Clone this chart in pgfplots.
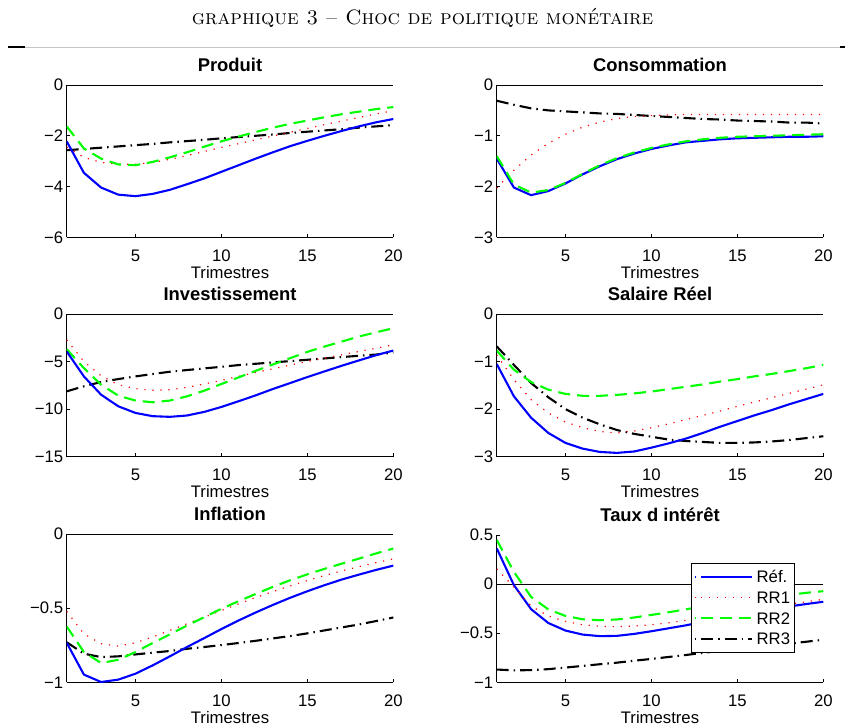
\documentclass[border=0pt]{standalone}
\usepackage{fontspec}
\usepackage{pgfplots}
\pgfplotsset{compat=1.18}
\newfontfamily\arialf{Liberation Sans}
\definecolor{mblue}{RGB}{0,0,255}
\definecolor{mred}{RGB}{255,0,0}
\definecolor{mgreen}{RGB}{0,255,0}
\pgfplotsset{
  every axis title shift=0pt,
  irf/.style={
    scale only axis, width=326.6pt,
    xmin=1, xmax=20,
    xtick={5,10,15,20}, xticklabels={5,10,15,20},
    axis x line*=bottom, axis y line*=left,
    axis line style={-, black, line width=0.7pt},
    tick align=inside, major tick length=3.5pt,
    tick style={black, line width=0.6pt},
    ticklabel style={font=\arialf\fontsize{16.7}{20}\selectfont},
    xticklabel style={yshift=-9pt},
    title style={font=\arialf\bfseries\fontsize{18.4}{22}\selectfont, at={(0.5,1)}, anchor=base, yshift=13.5pt},
    xlabel={Trimestres},
    xlabel style={font=\arialf\fontsize{16.7}{20}\selectfont, at={(axis description cs:0.5,0)}, anchor=base, yshift=-41pt},
    anchor=south west,
  },
  ref/.style={mblue, line width=2.1pt},
  rra/.style={mred, line width=1.2pt, dash pattern=on 1.2pt off 6.8pt},
  rrb/.style={mgreen, line width=2.1pt, dash pattern=on 12pt off 7pt},
  rrc/.style={black, line width=2.1pt, dash pattern=on 12pt off 5pt on 1.5pt off 5pt},
  zl/.style={black, line width=0.6pt, forget plot},
}
\begin{document}
\begin{tikzpicture}
\useasboundingbox (0pt,0pt) rectangle (845pt,726pt);
\node[anchor=base, font=\fontsize{20.8}{24}\selectfont] at (422.5pt,701pt) {\textsc{graphique 3 -- Choc de politique monétaire}};
\draw[gray!45, line width=0.8pt] (8pt,679pt) -- (845pt,679pt);
\draw[black, line width=1.6pt] (8pt,679pt) -- (25pt,679pt);
\draw[black, line width=1.6pt] (840pt,679pt) -- (845pt,679pt);

% Produit
\begin{axis}[irf, at={(66.7pt,488.7pt)}, height=152.3pt, ymin=-6, ymax=0,
  ytick={-6,-4,-2,0}, yticklabels={−6,−4,−2,0}, title={Produit}]
\addplot[zl] coordinates {(1,0)(20,0)};
\addplot[rrc] coordinates {(1,-2.57)(2,-2.52)(3,-2.47)(4,-2.42)(5,-2.37)(6,-2.32)(7,-2.26)(8,-2.21)(9,-2.16)(10,-2.10)(11,-2.05)(12,-2.00)(13,-1.95)(14,-1.89)(15,-1.84)(16,-1.79)(17,-1.74)(18,-1.68)(19,-1.63)(20,-1.58)};
\addplot[rra] coordinates {(1,-2.45)(2,-2.85)(3,-3.05)(4,-3.12)(5,-3.12)(6,-3.05)(7,-2.93)(8,-2.78)(9,-2.62)(10,-2.46)(11,-2.31)(12,-2.16)(13,-2.01)(14,-1.86)(15,-1.71)(16,-1.56)(17,-1.42)(18,-1.28)(19,-1.14)(20,-1.01)};
\addplot[rrb] coordinates {(1,-1.63)(2,-2.50)(3,-2.90)(4,-3.13)(5,-3.16)(6,-3.03)(7,-2.85)(8,-2.65)(9,-2.43)(10,-2.22)(11,-2.03)(12,-1.85)(13,-1.68)(14,-1.53)(15,-1.40)(16,-1.27)(17,-1.15)(18,-1.05)(19,-0.95)(20,-0.87)};
\addplot[ref] coordinates {(1,-2.22)(2,-3.46)(3,-4.04)(4,-4.32)(5,-4.38)(6,-4.29)(7,-4.13)(8,-3.91)(9,-3.68)(10,-3.42)(11,-3.16)(12,-2.90)(13,-2.65)(14,-2.41)(15,-2.20)(16,-2.00)(17,-1.81)(18,-1.63)(19,-1.47)(20,-1.34)};
\end{axis}

% Consommation
\begin{axis}[irf, at={(496.7pt,488.7pt)}, height=152.3pt, ymin=-3, ymax=0,
  ytick={-3,-2,-1,0}, yticklabels={−3,−2,−1,0}, title={Consommation}]
\addplot[zl] coordinates {(1,0)(20,0)};
\addplot[rrc] coordinates {(1,-0.31)(2,-0.39)(3,-0.46)(4,-0.50)(5,-0.52)(6,-0.54)(7,-0.56)(8,-0.57)(9,-0.59)(10,-0.61)(11,-0.63)(12,-0.65)(13,-0.67)(14,-0.68)(15,-0.70)(16,-0.71)(17,-0.72)(18,-0.74)(19,-0.74)(20,-0.76)};
\addplot[rra] coordinates {(1,-2.03)(2,-1.68)(3,-1.38)(4,-1.15)(5,-0.97)(6,-0.83)(7,-0.73)(8,-0.66)(9,-0.62)(10,-0.60)(11,-0.59)(12,-0.58)(13,-0.58)(14,-0.58)(15,-0.58)(16,-0.58)(17,-0.58)(18,-0.58)(19,-0.58)(20,-0.58)};
\addplot[ref] coordinates {(1,-1.45)(2,-2.02)(3,-2.17)(4,-2.09)(5,-1.94)(6,-1.76)(7,-1.60)(8,-1.46)(9,-1.35)(10,-1.26)(11,-1.19)(12,-1.13)(13,-1.10)(14,-1.07)(15,-1.05)(16,-1.04)(17,-1.03)(18,-1.02)(19,-1.02)(20,-1.01)};
\addplot[rrb] coordinates {(1,-1.40)(2,-1.96)(3,-2.12)(4,-2.07)(5,-1.93)(6,-1.75)(7,-1.58)(8,-1.44)(9,-1.33)(10,-1.24)(11,-1.17)(12,-1.11)(13,-1.07)(14,-1.04)(15,-1.02)(16,-1.01)(17,-1.00)(18,-0.99)(19,-0.98)(20,-0.97)};
\end{axis}

% Investissement
\begin{axis}[irf, at={(66.7pt,269.3pt)}, height=142.7pt, ymin=-15, ymax=0,
  ytick={-15,-10,-5,0}, yticklabels={−15,−10,−5,0}, title={Investissement}]
\addplot[zl] coordinates {(1,0)(20,0)};
\addplot[rrc] coordinates {(1,-8.13)(2,-7.60)(3,-7.15)(4,-6.84)(5,-6.56)(6,-6.31)(7,-6.07)(8,-5.89)(9,-5.72)(10,-5.55)(11,-5.37)(12,-5.23)(13,-5.09)(14,-4.95)(15,-4.81)(16,-4.67)(17,-4.53)(18,-4.39)(19,-4.26)(20,-4.05)};
\addplot[rra] coordinates {(1,-2.72)(2,-4.99)(3,-6.49)(4,-7.43)(5,-7.85)(6,-8.02)(7,-7.95)(8,-7.71)(9,-7.36)(10,-6.98)(11,-6.56)(12,-6.14)(13,-5.76)(14,-5.37)(15,-4.99)(16,-4.64)(17,-4.29)(18,-3.94)(19,-3.60)(20,-3.24)};
\addplot[rrb] coordinates {(1,-3.70)(2,-5.69)(3,-7.43)(4,-8.58)(5,-9.10)(6,-9.28)(7,-9.10)(8,-8.65)(9,-8.06)(10,-7.36)(11,-6.66)(12,-5.97)(13,-5.30)(14,-4.64)(15,-3.98)(16,-3.42)(17,-2.90)(18,-2.37)(19,-1.92)(20,-1.50)};
\addplot[ref] coordinates {(1,-3.94)(2,-6.56)(3,-8.48)(4,-9.70)(5,-10.40)(6,-10.74)(7,-10.81)(8,-10.67)(9,-10.29)(10,-9.77)(11,-9.17)(12,-8.55)(13,-7.88)(14,-7.26)(15,-6.63)(16,-6.03)(17,-5.44)(18,-4.88)(19,-4.33)(20,-3.84)};
\end{axis}

% Salaire Reel
\begin{axis}[irf, at={(496.7pt,269.3pt)}, height=142.7pt, ymin=-3, ymax=0,
  ytick={-3,-2,-1,0}, yticklabels={−3,−2,−1,0}, title={Salaire Réel}]
\addplot[zl] coordinates {(1,0)(20,0)};
\addplot[rrc] coordinates {(1,-0.68)(2,-1.07)(3,-1.45)(4,-1.75)(5,-2.00)(6,-2.18)(7,-2.32)(8,-2.44)(9,-2.52)(10,-2.58)(11,-2.64)(12,-2.67)(13,-2.69)(14,-2.71)(15,-2.71)(16,-2.70)(17,-2.68)(18,-2.65)(19,-2.61)(20,-2.57)};
\addplot[rra] coordinates {(1,-0.86)(2,-1.38)(3,-1.80)(4,-2.08)(5,-2.27)(6,-2.39)(7,-2.47)(8,-2.50)(9,-2.46)(10,-2.39)(11,-2.31)(12,-2.22)(13,-2.13)(14,-2.04)(15,-1.94)(16,-1.85)(17,-1.76)(18,-1.67)(19,-1.58)(20,-1.49)};
\addplot[rrb] coordinates {(1,-0.77)(2,-1.17)(3,-1.43)(4,-1.59)(5,-1.68)(6,-1.72)(7,-1.72)(8,-1.70)(9,-1.67)(10,-1.63)(11,-1.58)(12,-1.53)(13,-1.48)(14,-1.42)(15,-1.37)(16,-1.31)(17,-1.26)(18,-1.20)(19,-1.14)(20,-1.07)};
\addplot[ref] coordinates {(1,-1.05)(2,-1.73)(3,-2.18)(4,-2.50)(5,-2.71)(6,-2.83)(7,-2.90)(8,-2.92)(9,-2.89)(10,-2.81)(11,-2.72)(12,-2.62)(13,-2.50)(14,-2.37)(15,-2.25)(16,-2.13)(17,-2.02)(18,-1.90)(19,-1.79)(20,-1.68)};
\end{axis}

% Inflation
\begin{axis}[irf, at={(66.7pt,43.7pt)}, height=148.3pt, ymin=-1, ymax=0,
  ytick={-1,-0.5,0}, yticklabels={−1,−0.5,0}, title={Inflation}]
\addplot[zl] coordinates {(1,0)(20,0)};
\addplot[rrc] coordinates {(1,-0.73)(2,-0.807)(3,-0.830)(4,-0.825)(5,-0.812)(6,-0.800)(7,-0.789)(8,-0.774)(9,-0.762)(10,-0.749)(11,-0.735)(12,-0.720)(13,-0.704)(14,-0.688)(15,-0.670)(16,-0.650)(17,-0.630)(18,-0.610)(19,-0.587)(20,-0.563)};
\addplot[rra] coordinates {(1,-0.522)(2,-0.673)(3,-0.740)(4,-0.756)(5,-0.733)(6,-0.695)(7,-0.650)(8,-0.605)(9,-0.561)(10,-0.516)(11,-0.471)(12,-0.428)(13,-0.388)(14,-0.350)(15,-0.314)(16,-0.280)(17,-0.249)(18,-0.220)(19,-0.193)(20,-0.168)};
\addplot[rrb] coordinates {(1,-0.623)(2,-0.796)(3,-0.870)(4,-0.848)(5,-0.796)(6,-0.735)(7,-0.677)(8,-0.617)(9,-0.561)(10,-0.504)(11,-0.453)(12,-0.404)(13,-0.356)(14,-0.312)(15,-0.272)(16,-0.235)(17,-0.200)(18,-0.166)(19,-0.131)(20,-0.098)};
\addplot[ref] coordinates {(1,-0.733)(2,-0.948)(3,-0.998)(4,-0.982)(5,-0.942)(6,-0.886)(7,-0.825)(8,-0.762)(9,-0.702)(10,-0.641)(11,-0.583)(12,-0.529)(13,-0.478)(14,-0.430)(15,-0.386)(16,-0.345)(17,-0.307)(18,-0.274)(19,-0.242)(20,-0.213)};
\end{axis}

% Taux d interet
\begin{axis}[irf, at={(496.7pt,43.7pt)}, height=147.3pt, ymin=-1, ymax=0.5,
  ytick={-1,-0.5,0,0.5}, yticklabels={−1,−0.5,0,0.5}, title={Taux d intérêt},
  legend cell align=left,
  legend style={at={(0.913,0.808)}, anchor=north east, draw=black, line width=0.6pt, fill=white,
    font=\arialf\fontsize{16.7}{20}\selectfont, inner sep=3pt, column sep=2pt, row sep=0pt,
    nodes={inner xsep=1.5pt, inner ysep=4.3pt, text height=12pt, text depth=0pt}},
  legend image code/.code={\path (0pt,0pt) -- (1pt,0pt); \draw[#1] (6pt,0pt) -- (57pt,0pt);}]
\addplot[zl] coordinates {(1,0)(20,0)};
\addplot[ref] coordinates {(1,0.365)(2,-0.010)(3,-0.255)(4,-0.396)(5,-0.473)(6,-0.514)(7,-0.530)(8,-0.527)(9,-0.507)(10,-0.480)(11,-0.450)(12,-0.420)(13,-0.385)(14,-0.350)(15,-0.317)(16,-0.285)(17,-0.256)(18,-0.228)(19,-0.203)(20,-0.180)};
\addlegendentry{Réf.}
\addplot[rra] coordinates {(1,0.155)(2,-0.030)(3,-0.223)(4,-0.324)(5,-0.380)(6,-0.414)(7,-0.430)(8,-0.434)(9,-0.427)(10,-0.414)(11,-0.394)(12,-0.370)(13,-0.343)(14,-0.318)(15,-0.290)(16,-0.262)(17,-0.233)(18,-0.205)(19,-0.180)(20,-0.155)};
\addlegendentry{RR1}
\addplot[rrb] coordinates {(1,0.450)(2,0.125)(3,-0.130)(4,-0.257)(5,-0.324)(6,-0.358)(7,-0.368)(8,-0.360)(9,-0.340)(10,-0.314)(11,-0.287)(12,-0.257)(13,-0.227)(14,-0.200)(15,-0.176)(16,-0.152)(17,-0.130)(18,-0.110)(19,-0.089)(20,-0.072)};
\addlegendentry{RR2}
\addplot[rrc] coordinates {(1,-0.870)(2,-0.878)(3,-0.876)(4,-0.866)(5,-0.850)(6,-0.833)(7,-0.816)(8,-0.800)(9,-0.780)(10,-0.762)(11,-0.742)(12,-0.722)(13,-0.700)(14,-0.680)(15,-0.660)(16,-0.645)(17,-0.625)(18,-0.607)(19,-0.587)(20,-0.567)};
\addlegendentry{RR3}
\end{axis}
\end{tikzpicture}
\end{document}
